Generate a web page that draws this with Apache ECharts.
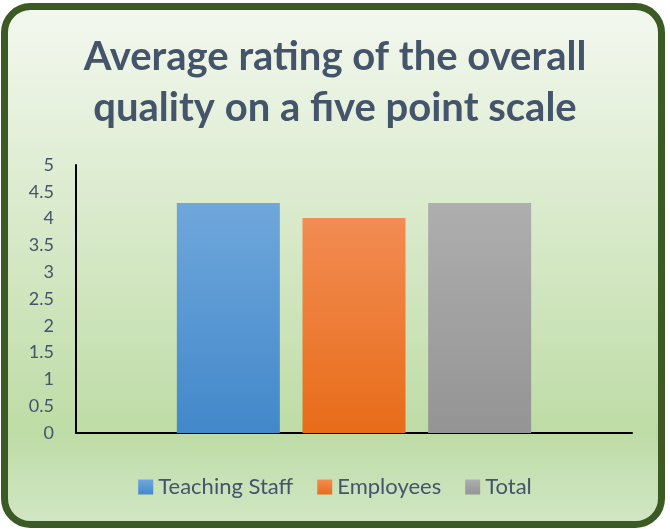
<!DOCTYPE html>
<html>
<head>
<meta charset="UTF-8">
<title>Average rating</title>
<script type="text/javascript" src="https://cdn.jsdelivr.net/npm/echarts@6/dist/echarts.min.js"></script>
<style>
  html, body { margin: 0; padding: 0; background: #ffffff; }
  #box { width: 670px; height: 529px; }
</style>
</head>
<body>
	<div id="box"></div>

	<script type="text/javascript">
		// data
		var categories = [ '' ];
		var seriesNames = [ 'Teaching Staff', 'Employees', 'Total' ];
		var teachingStaff = [ 4.29 ];
		var employees = [ 4.01 ];
		var total = [ 4.29 ];
		var yTicks = [ 0, 0.5, 1, 1.5, 2, 2.5, 3, 3.5, 4, 4.5, 5 ];

		var textColor = '#44546a';
		var font = 'Lato, "Open Sans", sans-serif';

		function grad(top, bottom) {
			return new echarts.graphic.LinearGradient(0, 0, 0, 1, [
				{ offset : 0, color : top },
				{ offset : 1, color : bottom }
			]);
		}

		var myChart = echarts.init(document.getElementById('box'));
		myChart.setOption({
			animation : false,
			textStyle : { fontFamily : font },
			graphic : [ {
				type : 'rect',
				z : -10,
				silent : true,
				shape : { x : 4.5, y : 6.5, width : 657, height : 518, r : 26 },
				style : {
					fill : new echarts.graphic.LinearGradient(0, 0, 0, 1, [
						{ offset : 0, color : '#f4f8f0' },
						{ offset : 0.82, color : '#bedca6' },
						{ offset : 1, color : '#d2e7c6' }
					]),
					stroke : '#3b5a24',
					lineWidth : 7
				}
			} ],
			title : {
				text : 'Average rating of the overall\nquality on a five point scale',
				left : 'center',
				top : 27,
				textStyle : {
					color : textColor,
					fontSize : 40,
					fontWeight : 'bold',
					lineHeight : 51,
					fontFamily : font
				}
			},
			legend : {
				data : seriesNames,
				bottom : 26,
				left : 'center',
				icon : 'rect',
				itemWidth : 15,
				itemHeight : 15,
				itemGap : 24,
				itemTextGap : 6,
				textStyle : { color : textColor, fontSize : 22, fontFamily : font }
			},
			grid : { left : 76, right : 38, top : 165, bottom : 96, containLabel : false },
			xAxis : {
				type : 'category',
				data : categories,
				axisLine : { lineStyle : { color : '#000000', width : 2 } },
				axisTick : { show : false },
				axisLabel : { show : false }
			},
			yAxis : {
				type : 'value',
				min : yTicks[0],
				max : yTicks[yTicks.length - 1],
				interval : 0.5,
				axisLine : { show : true, lineStyle : { color : '#000000', width : 2 } },
				axisTick : { show : false },
				splitLine : { show : false },
				axisLabel : { color : textColor, fontSize : 18, margin : 22, fontFamily : font }
			},
			series : [ {
				name : seriesNames[0],
				type : 'bar',
				data : teachingStaff,
				barWidth : 103,
				barGap : '22%',
				itemStyle : { color : grad('#6fa7db', '#4288ca') }
			}, {
				name : seriesNames[1],
				type : 'bar',
				data : employees,
				barWidth : 103,
				barGap : '22%',
				itemStyle : { color : grad('#f28c53', '#e86c19') }
			}, {
				name : seriesNames[2],
				type : 'bar',
				data : total,
				barWidth : 103,
				barGap : '22%',
				itemStyle : { color : grad('#aeaeae', '#949494') }
			} ]
		});
	</script>

</body>
</html>
